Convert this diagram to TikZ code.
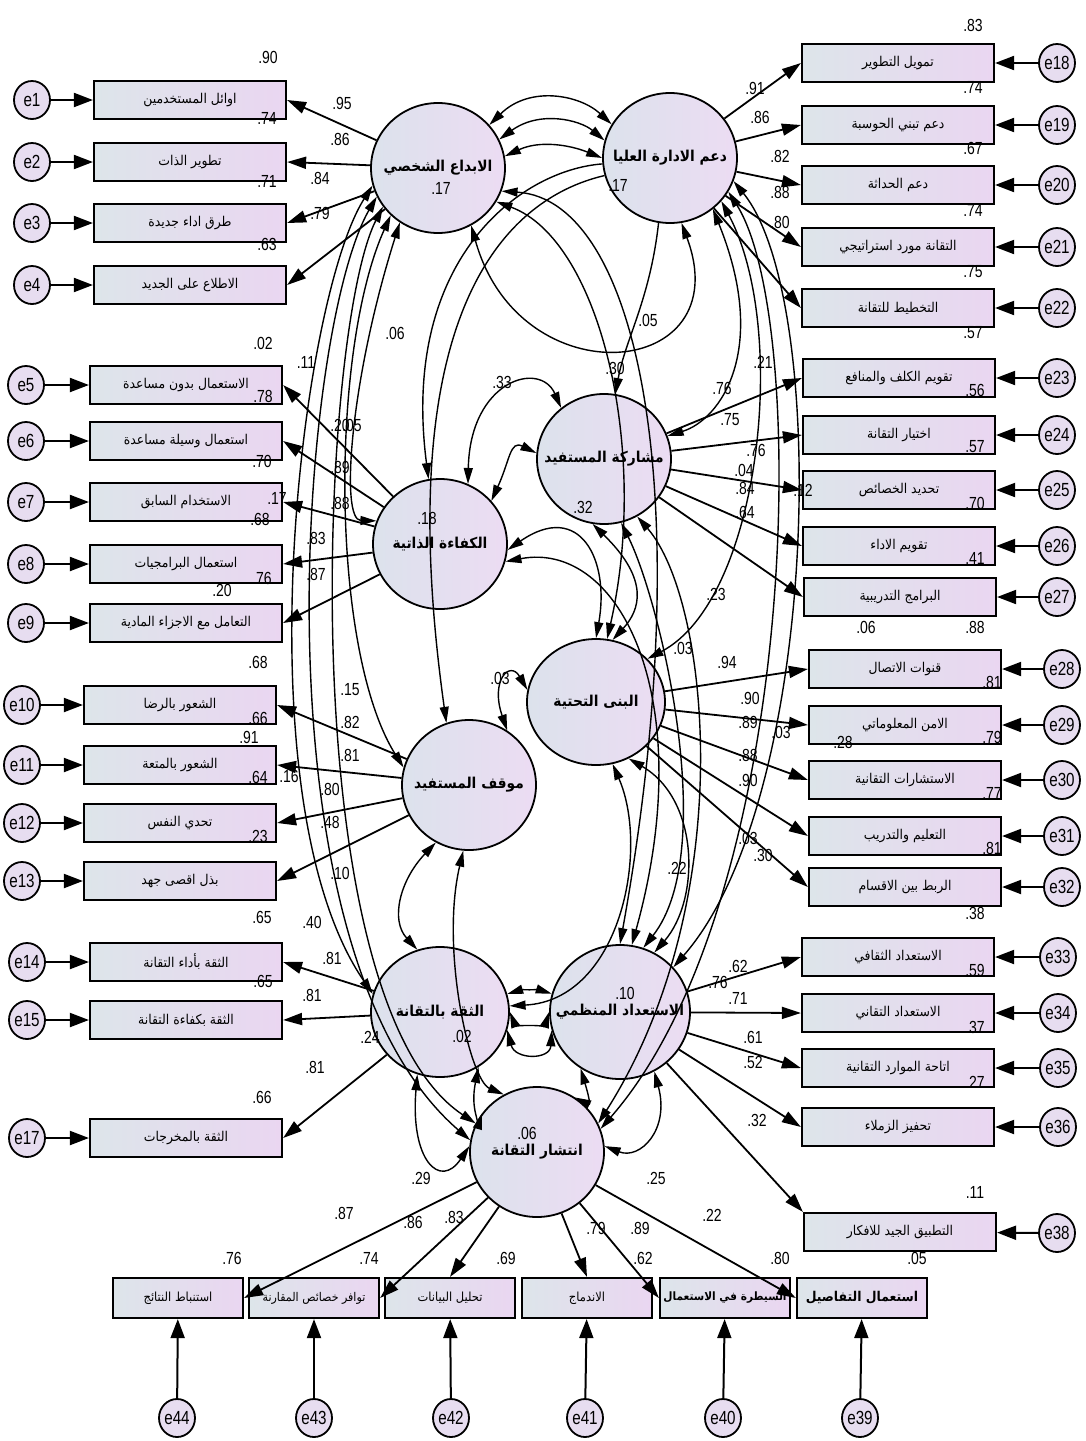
\documentclass[tikz,border=0pt]{standalone}
\usepackage{fontspec}
\setmainfont{Liberation Sans}
\newfontfamily\numfont[FakeStretch=0.8]{Liberation Sans}
\newfontfamily\arfont[Script=Arabic,FakeStretch=0.92]{DejaVu Sans}
\TeXXeTstate=1
\usetikzlibrary{shapes.geometric,arrows.meta}
\definecolor{boxL}{HTML}{DDE5EA}
\definecolor{boxR}{HTML}{EAD6F1}
\definecolor{latL}{HTML}{DCE2EC}
\definecolor{latR}{HTML}{ECDCF3}
\definecolor{errF}{HTML}{E7DDF0}
\newcommand\artxt[1]{{\arfont\beginR #1\endR}}
\tikzset{
  ind/.style={rectangle, draw, line width=2.2pt, minimum width=192pt, minimum height=38pt,
    left color=boxL, right color=boxR, inner sep=0pt, font=\fontsize{13.5}{15}\selectfont},
  bot/.style={ind, minimum width=130pt, minimum height=40pt},
  lat/.style={ellipse, draw, line width=1.8pt, left color=latL, right color=latR,
    minimum width=134pt, minimum height=130pt, inner sep=0pt},
  lattext/.style={inner sep=0pt, font=\fontsize{15}{17}\selectfont\bfseries},
  err/.style={ellipse, draw, line width=1.8pt, fill=errF, minimum width=36pt, minimum height=38pt,
    inner sep=0pt, font=\numfont\fontsize{19}{20}\selectfont},
  num/.style={inner sep=0pt, font=\numfont\fontsize{17.5}{18}\selectfont},
  eline/.style={line width=2pt, -{Triangle[length=19pt,width=14pt]}},
  load/.style={line width=1.8pt, -{Triangle[length=19pt,width=12pt]}},
  cov/.style={line width=1.4pt, {Triangle[length=16pt,width=9pt]}-{Triangle[length=16pt,width=9pt]}},
  reg/.style={line width=1.4pt, -{Triangle[length=16pt,width=9pt]}}
}
\begin{document}
\begin{tikzpicture}[x=1pt,y=-1pt]
\useasboundingbox[fill=white] (0,0) rectangle (1085,1441);

% latent variables (shape first, caption on top)
\node[lat] (cre) at (438,168) {};
\node[lat] (top) at (670,158) {};
\node[lat] (par) at (604,459) {};
\node[lat] (eff) at (440,544) {};
\node[lat, minimum width=138pt, minimum height=126pt] (inf) at (596,702) {};
\node[lat] (att) at (469,785) {};
\node[lat, minimum width=138pt] (tru) at (440,1012) {};
\node[lat, minimum width=140pt, minimum height=134pt] (org) at (620,1012) {};
\node[lat] (dif) at (537,1152) {};
\node[lattext] (cre-t) at (cre) {\artxt{الابداع الشخصي}};
\node[lattext] (top-t) at (top) {\artxt{دعم الادارة العليا}};
\node[lattext] (par-t) at (par) {\artxt{مشاركة المستفيد}};
\node[lattext] (eff-t) at (eff) {\artxt{الكفاءة الذاتية}};
\node[lattext] (inf-t) at (inf) {\artxt{البنى التحتية}};
\node[lattext] (att-t) at (att) {\artxt{موقف المستفيد}};
\node[lattext] (tru-t) at (tru) {\artxt{الثقة بالتقانة}};
\node[lattext] (org-t) at (org) {\artxt{الاستعداد المنظمي}};
\node[lattext] (dif-t) at (dif) {\artxt{انتشار التقانة}};

% left indicators
\node[ind] (b1) at (190,100) {\artxt{اوائل المستخدمين}};
\node[ind] (b2) at (190,162) {\artxt{تطوير الذات}};
\node[ind] (b3) at (190,223) {\artxt{طرق اداء جديدة}};
\node[ind] (b4) at (190,285) {\artxt{الاطلاع على الجديد}};
\node[ind] (b5) at (186,385) {\artxt{الاستعمال بدون مساعدة}};
\node[ind] (b6) at (186,441) {\artxt{استعمال وسيلة مساعدة}};
\node[ind] (b7) at (186,502) {\artxt{الاستخدام السابق}};
\node[ind] (b8) at (186,564) {\artxt{استعمال البرامجيات}};
\node[ind] (b9) at (186,623) {\artxt{التعامل مع الاجزاء المادية}};
\node[ind] (b10) at (180,705) {\artxt{الشعور بالرضا}};
\node[ind] (b11) at (180,765) {\artxt{الشعور بالمتعة}};
\node[ind] (b12) at (180,823) {\artxt{تحدي النفس}};
\node[ind] (b13) at (180,881) {\artxt{بذل اقصى جهد}};
\node[ind] (b14) at (186,962) {\artxt{الثقة بأداء التقانة}};
\node[ind] (b15) at (186,1020) {\artxt{الثقة بكفاءة التقانة}};
\node[ind] (b17) at (186,1138) {\artxt{الثقة بالمخرجات}};

% right indicators
\node[ind] (b18) at (898,63) {\artxt{تمويل التطوير}};
\node[ind] (b19) at (898,125) {\artxt{دعم تبني الحوسبة}};
\node[ind] (b20) at (898,185) {\artxt{دعم الحداثة}};
\node[ind] (b21) at (898,247) {\artxt{التقانة مورد استراتيجي}};
\node[ind] (b22) at (898,308) {\artxt{التخطيط للتقانة}};
\node[ind] (b23) at (899,378) {\artxt{تقويم الكلف والمنافع}};
\node[ind] (b24) at (899,435) {\artxt{اختيار التقانة}};
\node[ind] (b25) at (899,490) {\artxt{تحديد الخصائص}};
\node[ind] (b26) at (899,546) {\artxt{تقويم الاداء}};
\node[ind] (b27) at (900,597) {\artxt{البرامج التدريبية}};
\node[ind] (b28) at (905,669) {\artxt{قنوات الاتصال}};
\node[ind] (b29) at (905,725) {\artxt{الامن المعلوماتي}};
\node[ind] (b30) at (905,780) {\artxt{الاستشارات التقانية}};
\node[ind] (b31) at (905,836) {\artxt{التعليم والتدريب}};
\node[ind] (b32) at (905,887) {\artxt{الربط بين الاقسام}};
\node[ind] (b33) at (898,957) {\artxt{الاستعداد الثقافي}};
\node[ind] (b34) at (898,1013) {\artxt{الاستعداد التقاني}};
\node[ind] (b35) at (898,1068) {\artxt{اتاحة الموارد التقانية}};
\node[ind] (b36) at (898,1127) {\artxt{تحفيز الزملاء}};
\node[ind] (b38) at (900,1232) {\artxt{التطبيق الجيد للافكار}};

% bottom indicators
\node[bot, font=\fontsize{12.5}{14}\selectfont] (b44) at (178,1298) {\artxt{استنباط النتائج}};
\node[bot, font=\fontsize{12}{14}\selectfont] (b43) at (314,1298) {\artxt{توافر خصائص المقارنة}};
\node[bot, font=\fontsize{12.5}{14}\selectfont] (b42) at (450,1298) {\artxt{تحليل البيانات}};
\node[bot, font=\fontsize{12.5}{14}\selectfont] (b41) at (587,1298) {\artxt{الاندماج}};
\node[bot, font=\fontsize{11.5}{14}\selectfont\bfseries] (b40) at (725,1298) {\artxt{السيطرة في الاستعمال}};
\node[bot, font=\fontsize{13.5}{14}\selectfont\bfseries] (b39) at (862,1298) {\artxt{استعمال التفاصيل}};

% error terms
\foreach \n/\x/\y in {1/32/100,2/32/162,3/32/223,4/32/285,5/26/385,6/26/441,7/26/502,8/26/564,9/26/623,
  10/22/705,11/22/765,12/22/823,13/22/881,14/27/962,15/27/1020,17/27/1138,
  18/1057/63,19/1057/125,20/1057/185,21/1057/247,22/1057/308,
  23/1057/378,24/1057/435,25/1057/490,26/1057/546,27/1057/597,
  28/1062/669,29/1062/725,30/1062/780,31/1062/836,32/1062/887,
  33/1058/957,34/1058/1013,35/1058/1068,36/1058/1127,38/1057/1233,
  44/177/1418,43/314/1418,42/451/1418,41/585/1418,40/723/1418,39/860/1418}
  {\node[err] (e\n) at (\x,\y) {e\n};
   \draw[eline] (e\n) -- (b\n);}

% loadings
\foreach \b in {1,2,3,4} \draw[load] (cre) -- (b\b.east);
\foreach \b in {5,6,7,8,9} \draw[load] (eff) -- (b\b.east);
\foreach \b in {10,11,12,13} \draw[load] (att) -- (b\b.east);
\foreach \b in {14,15,17} \draw[load] (tru) -- (b\b.east);
\foreach \b in {18,19,20,21,22} \draw[load] (top) -- (b\b.west);
\foreach \b in {23,24,25,26,27} \draw[load] (par) -- (b\b.west);
\foreach \b in {28,29,30,31,32} \draw[load] (inf) -- (b\b.west);
\foreach \b in {33,34,35,36} \draw[load] (org) -- (b\b.west);
\draw[load] (org) -- (b38.north west);
\draw[load] (dif) -- (b44.east);
\draw[load] (dif) -- (b43.east);
\draw[load] (dif) -- (b42.north);
\draw[load] (dif) -- (b41.north);
\draw[load] (dif) -- (b40.west);
\draw[load] (dif) -- (b39.west);

% covariances and paths between the latent variables
\draw[cov] (cre.40) .. controls (530,85) and (580,95) .. (top.150);
\draw[cov] (cre.25) .. controls (540,110) and (580,120) .. (top.165);
\draw[cov] (cre.10) .. controls (540,140) and (570,145) .. (top.180);
\draw[cov] (cre.-60) .. controls (520,400) and (740,380) .. (top.-80);
\draw[reg] (top.185) .. controls (520,170) and (400,260) .. (eff.100);
\draw[reg] (top.195) .. controls (500,200) and (390,320) .. (att.110);
\draw[cov] (cre.195) .. controls (300,300) and (240,800) .. (tru.165);
\draw[cov] (cre.205) .. controls (300,330) and (250,950) .. (dif.170);
\draw[cov] (cre.215) .. controls (320,330) and (290,1000) .. (dif.155);
\draw[cov] (cre.225) .. controls (330,350) and (330,650) .. (att.165);
\draw[cov] (cre.235) .. controls (350,380) and (340,520) .. (eff.160);
\draw[cov] (cre.-20) .. controls (640,200) and (700,500) .. (org.90);
\draw[cov] (cre.-30) .. controls (600,240) and (650,450) .. (inf.80);
\draw[cov] (top.-20) .. controls (830,300) and (820,800) .. (org.40);
\draw[cov] (top.-30) .. controls (810,320) and (800,900) .. (dif.20);
\draw[cov] (top.-40) .. controls (790,330) and (760,600) .. (inf.40);
\draw[cov] (top.-50) .. controls (770,350) and (720,420) .. (par.20);
\draw[reg] (top.-100) .. controls (650,300) and (625,340) .. (par.80);
\draw[cov] (eff.65) .. controls (470,380) and (540,360) .. (par.130);
\draw[cov] (eff.40) .. controls (510,460) and (510,440) .. (par.175);
\draw[cov] (eff.-5) .. controls (580,500) and (610,560) .. (inf.90);
\draw[cov] (eff.-15) .. controls (620,540) and (700,700) .. (org.80);
\draw[cov] (att.55) .. controls (490,680) and (510,660) .. (inf.170);
\draw[cov] (par.-75) .. controls (660,600) and (720,850) .. (org.70);
\draw[cov] (par.-60) .. controls (710,600) and (740,900) .. (dif.25);
\draw[cov] (par.-100) .. controls (650,580) and (640,610) .. (inf.75);
\draw[cov] (inf.-75) .. controls (650,850) and (620,1000) .. (tru.5);
\draw[cov] (inf.-60) .. controls (700,800) and (700,900) .. (org.60);
\draw[cov] (att.-95) .. controls (440,950) and (470,1080) .. (dif.120);
\draw[cov] (att.-120) .. controls (400,880) and (390,920) .. (tru.110);
\draw[cov] (tru.15) .. controls (520,990) and (540,990) .. (org.165);
\draw[cov] (tru.0) .. controls (515,1025) and (545,1025) .. (org.180);
\draw[cov] (tru.-15) .. controls (515,1060) and (550,1060) .. (org.195);
\draw[cov] (tru.-55) .. controls (470,1110) and (480,1120) .. (dif.145);
\draw[cov] (org.-125) .. controls (590,1100) and (590,1105) .. (dif.55);
\draw[cov] (tru.-110) .. controls (410,1160) and (440,1190) .. (dif.175);
\draw[cov] (org.-60) .. controls (670,1130) and (640,1160) .. (dif.5);

% estimates
\foreach \x/\y/\t [count=\i] in {
 268/57/.90, 267/118/.74, 267/181/.71, 267/244/.63, 342/103/.95, 340/139/.86, 320/178/.84, 320/213/.79,
 263/343/.02, 306/362/.11, 263/396/.78, 262/461/.70, 277/498/.17, 260/519/.68, 262/578/.76, 222/590/.20,
 340/425/.20, 352/425/.05, 340/467/.89, 340/503/.88, 316/538/.83, 316/574/.87,
 258/662/.68, 258/718/.66, 249/737/.91, 258/777/.64, 289/776/.16, 258/836/.23, 262/917/.65,
 350/690/.15, 350/722/.82, 350/755/.81, 330/789/.80, 330/822/.48, 340/873/.10, 312/922/.40,
 332/958/.81, 263/981/.65, 312/995/.81, 315/1067/.81, 262/1097/.66, 370/1037/.24,
 973/25/.83, 973/87/.74, 973/148/.67, 973/210/.74, 973/272/.75, 973/333/.57,
 755/88/.91, 760/117/.86, 780/156/.82, 780/192/.88, 780/222/.80,
 763/362/.21, 722/388/.76, 730/420/.75, 975/390/.56, 975/447/.57, 756/450/.76, 744/470/.04,
 745/488/.84, 803/490/.12, 975/503/.70, 745/512/.64, 975/558/.41, 866/627/.06, 975/627/.88,
 992/682/.81, 992/737/.79, 992/793/.77, 992/848/.81, 975/913/.38, 727/662/.94, 750/698/.90,
 748/722/.89, 781/732/.03, 843/742/.28, 748/755/.88, 748/780/.90, 748/838/.03, 763/855/.30,
 975/970/.59, 975/1027/.37, 975/1082/.27, 738/966/.62, 738/998/.71, 718/982/.76, 753/1037/.61,
 753/1062/.52, 757/1120/.32, 975/1192/.11,
 232/1258/.76, 369/1258/.74, 506/1258/.69, 643/1258/.62, 780/1258/.80, 917/1258/.05,
 344/1213/.87, 413/1222/.86, 454/1217/.83, 596/1228/.79, 640/1228/.89, 712/1215/.22,
 421/1178/.29, 656/1178/.25,
 441/188/.17, 618/185/.17, 395/333/.06, 648/320/.05, 615/368/.30, 502/382/.33, 583/507/.32,
 427/518/.18, 716/594/.23, 683/648/.03, 500/678/.03, 677/868/.22, 625/993/.10, 462/1036/.02,
 527/1133/.06}
 \node[num] (n\i) at (\x,\y) {\t};
\end{tikzpicture}
\end{document}
